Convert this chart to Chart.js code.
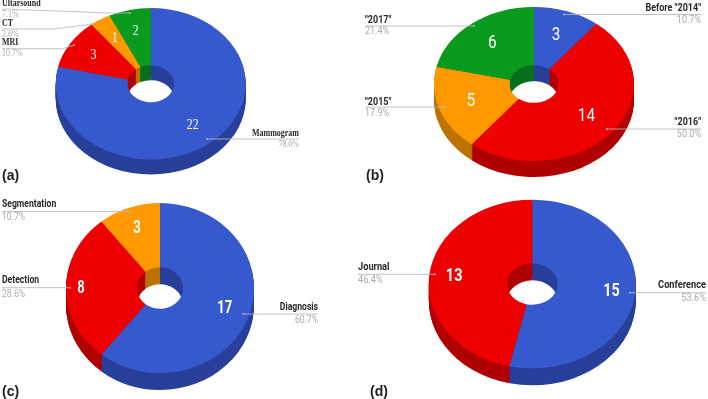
<!DOCTYPE html>
<html>
<head>
<meta charset="utf-8">
<title>Pie charts</title>
<script src="https://cdn.jsdelivr.net/npm/chart.js@4/dist/chart.umd.js"></script>
<style>
    html, body { margin: 0; padding: 0; background: #fff; overflow: hidden; }
    #wrap { position: relative; width: 708px; height: 399px; }
    canvas { position: absolute; left: 0; top: 0; }
</style>
</head>
<body>
<div id="wrap">
    <canvas id="chartA" width="708" height="399"></canvas>
    <canvas id="chartB" width="708" height="399"></canvas>
    <canvas id="chartC" width="708" height="399"></canvas>
    <canvas id="chartD" width="708" height="399"></canvas>
</div>
<script>
// Data
const modalityLabels = ['Mammogram', 'MRI', 'CT', 'Ultarsound'];
const modalityValues = [22, 3, 1, 2];
const yearLabels = ['Before "2014"', '"2016"', '"2015"', '"2017"'];
const yearValues = [3, 14, 5, 6];
const taskLabels = ['Diagnosis', 'Detection', 'Segmentation'];
const taskValues = [17, 8, 3];
const venueLabels = ['Conference', 'Journal'];
const venueValues = [15, 13];

// Colours
const BLUE = '#3659cd', RED = '#ee0000', ORANGE = '#ff9900', GREEN = '#0a9a1e';
const SIDE = { [BLUE]: '#28409a', [RED]: '#b00000', [ORANGE]: '#bd7200', [GREEN]: '#07701a' };
const LINE = 'rgba(185,185,185,0.85)', PERCENT = '#ababab', NAME = '#2a2a2a';

const SANS = 'Roboto, sans-serif';
const SERIF = '"Liberation Serif", serif';

// The reference type is narrower than any installed face, so squeeze it in x
function drawText(ctx, text, x, y, stretch) {
    ctx.save();
    ctx.translate(x, y);
    ctx.scale(stretch, 1);
    ctx.fillText(text, 0, 0);
    ctx.restore();
}

/**
 * Tilted doughnut: draws the side wall, squashes the top face and adds callouts.
 * Each callout: [x1, y1, x2, y2, x3, y3, textX, align, nameY, percentY]
 */
const tiltPlugin = {
    id: 'tilt',
    beforeDatasetsDraw(chart, args, opts) {
        const ctx = chart.ctx;
        const arcs = chart.getDatasetMeta(0).data;
        const colors = chart.data.datasets[0].backgroundColor;
        // side wall, deepest layer first
        for (let d = opts.depth; d >= 1; d--) {
            arcs.forEach((arc, i) => {
                ctx.save();
                ctx.translate(0, d);
                applyTilt(ctx, arc, opts);
                ctx.beginPath();
                ctx.arc(arc.x, arc.y, arc.outerRadius, arc.startAngle, arc.endAngle);
                ctx.arc(arc.x, arc.y, arc.innerRadius, arc.endAngle, arc.startAngle, true);
                ctx.closePath();
                ctx.fillStyle = SIDE[colors[i]];
                ctx.fill();
                ctx.restore();
            });
        }
        ctx.save();
        applyTilt(ctx, arcs[0], opts);
    },
    afterDatasetsDraw(chart, args, opts) {
        const ctx = chart.ctx;
        ctx.restore();
        const arcs = chart.getDatasetMeta(0).data;
        const values = chart.data.datasets[0].data;
        const total = values.reduce((sum, v) => sum + v, 0);
        ctx.textBaseline = 'middle';

        arcs.forEach((arc, i) => {
            const c = opts.callouts[i];
            // leader line
            ctx.strokeStyle = LINE;
            ctx.lineWidth = 1;
            ctx.beginPath();
            ctx.moveTo(c[0], c[1]);
            ctx.lineTo(c[2], c[3]);
            ctx.lineTo(c[4], c[5]);
            ctx.stroke();
            ctx.fillStyle = LINE;
            ctx.beginPath();
            ctx.arc(c[0], c[1], 1, 0, Math.PI * 2);
            ctx.fill();

            // name and percentage
            ctx.textAlign = c[7];
            ctx.font = opts.nameFont;
            ctx.fillStyle = NAME;
            drawText(ctx, chart.data.labels[i], c[6], c[8], opts.nameStretch);
            ctx.font = opts.percentFont;
            ctx.fillStyle = PERCENT;
            drawText(ctx, (values[i] / total * 100).toFixed(1) + '%', c[6], c[9], opts.nameStretch);

            // value inside the slice
            const mid = (arc.startAngle + arc.endAngle) / 2;
            const r = opts.valueRadius[i];
            ctx.textAlign = 'center';
            ctx.font = opts.valueFont;
            ctx.fillStyle = '#fff';
            drawText(ctx, String(values[i]),
                opts.cx + Math.cos(mid) * r * opts.rx,
                opts.cy + Math.sin(mid) * r * opts.ry,
                opts.valueStretch);
        });

        ctx.textAlign = 'left';
        ctx.font = 'bold 14px "Liberation Sans", sans-serif';
        ctx.fillStyle = '#222';
        ctx.fillText(opts.panel, opts.panelX, opts.panelY);
    }
};

function applyTilt(ctx, arc, opts) {
    ctx.translate(opts.cx, opts.cy);
    ctx.scale(opts.rx / arc.outerRadius, opts.ry / arc.outerRadius);
    ctx.translate(-arc.x, -arc.y);
}

function makeChart(id, labels, values, colors, tilt) {
    return new Chart(document.getElementById(id), {
        type: 'doughnut',
        data: { labels: labels, datasets: [{ data: values, backgroundColor: colors, borderWidth: 0 }] },
        options: {
            responsive: false,
            animation: false,
            cutout: '24.5%',
            events: [],
            plugins: { legend: { display: false }, tooltip: { enabled: false }, tilt: tilt }
        },
        plugins: [tiltPlugin]
    });
}

makeChart('chartA', modalityLabels, modalityValues, [BLUE, RED, ORANGE, GREEN], {
    cx: 150.7, cy: 83.7, rx: 95, ry: 75.7, depth: 15,
    panel: '(a)', panelX: 2, panelY: 176,
    nameFont: 'bold 9.5px ' + SERIF, percentFont: '9.5px ' + SERIF, valueFont: '14px ' + SERIF,
    nameStretch: 0.84, valueStretch: 0.85,
    valueRadius: [0.71, 0.71, 0.71, 0.71],
    callouts: [
        [207, 139, 207, 139, 299, 139, 299, 'right', 134, 144],
        [74, 45, 63, 48.7, 2, 48.7, 2, 'left', 43, 53.5],
        [92, 24, 55, 29, 2, 29, 2, 'left', 24, 34],
        [130, 13, 110, 13, 2, 9, 2, 'left', 4, 14.5]
    ]
});

makeChart('chartB', yearLabels, yearValues, [BLUE, RED, ORANGE, GREEN], {
    cx: 534, cy: 84, rx: 100, ry: 77, depth: 16,
    panel: '(b)', panelX: 366, panelY: 176,
    nameFont: 'bold 10px ' + SANS, percentFont: '10px ' + SANS, valueFont: '18px ' + SANS,
    nameStretch: 0.9, valueStretch: 0.85,
    valueRadius: [0.67, 0.67, 0.67, 0.67],
    callouts: [
        [564, 14.5, 564, 14.5, 701, 14.5, 701, 'right', 8, 20],
        [607, 129, 607, 129, 701, 129, 701, 'right', 122.7, 134],
        [446, 107, 446, 107, 365, 107, 365, 'left', 102, 113],
        [474, 26, 474, 26, 365, 26, 365, 'left', 20, 31.7]
    ]
});

makeChart('chartC', taskLabels, taskValues, [BLUE, RED, ORANGE], {
    cx: 160, cy: 288, rx: 94, ry: 85, depth: 17,
    panel: '(c)', panelX: 2, panelY: 392,
    nameFont: 'bold 10.5px ' + SANS, percentFont: '10.5px ' + SANS, valueFont: 'bold 18px ' + SANS,
    nameStretch: 0.82, valueStretch: 0.72,
    valueRadius: [0.73, 0.84, 0.74],
    callouts: [
        [243, 314, 243, 314, 318, 314, 318, 'right', 307.7, 320.7],
        [70, 287.7, 70, 287.7, 2, 287.7, 2, 'left', 280.7, 294],
        [130, 211.5, 130, 211.5, 2, 211.5, 2, 'left', 204, 217.7]
    ]
});

makeChart('chartD', venueLabels, venueValues, [BLUE, RED], {
    cx: 532.3, cy: 284, rx: 103.5, ry: 84.3, depth: 17,
    panel: '(d)', panelX: 370, panelY: 392,
    nameFont: 'bold 10.5px ' + SANS, percentFont: '10.5px ' + SANS, valueFont: 'bold 18px ' + SANS,
    nameStretch: 0.88, valueStretch: 0.8,
    valueRadius: [0.77, 0.76],
    callouts: [
        [630, 292.7, 630, 292.7, 706, 292.7, 706, 'right', 285.7, 298.7],
        [435, 274.3, 435, 274.3, 358, 274.3, 358, 'left', 267.7, 280.7]
    ]
});
</script>
</body>
</html>
